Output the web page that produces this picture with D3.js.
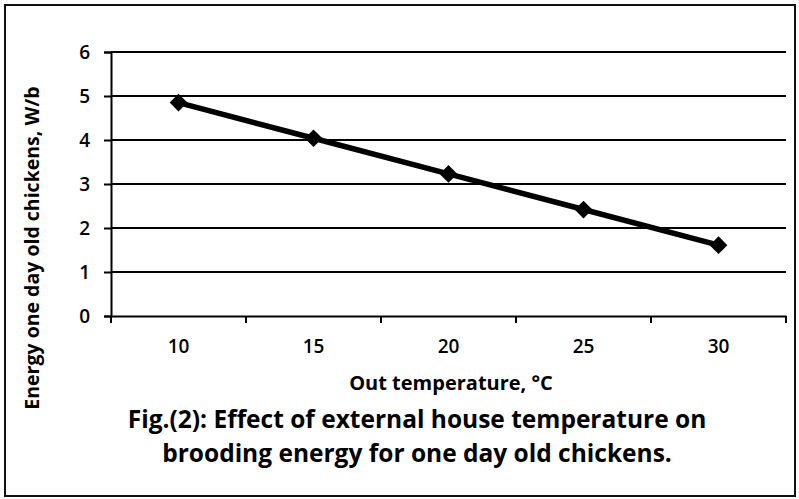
<!DOCTYPE html>
<html>
<head>
<meta charset="utf-8">
<script src="https://cdn.jsdelivr.net/npm/d3@7"></script>
<style>
  body { margin: 0; background: #fff; }
  svg text { font-family: "Open Sans", "DejaVu Sans", sans-serif; fill: #000; }
</style>
</head>
<body>
<div class="canvas"></div>
<script>
// data
const temps = ["10", "15", "20", "25", "30"];
const energy = [4.85, 4.04, 3.23, 2.42, 1.61];
const yTicks = [0, 1, 2, 3, 4, 5, 6];

const width = 799;
const height = 499;
const margin = { top: 52, right: 13, bottom: 183, left: 111 };
const graphWidth = width - margin.left - margin.right;
const graphHeight = height - margin.top - margin.bottom;

const svg = d3
  .select(".canvas")
  .append("svg")
  .attr("width", width)
  .attr("height", height);

// outer frame
svg
  .append("rect")
  .attr("x", 5)
  .attr("y", 5)
  .attr("width", 790)
  .attr("height", 491)
  .attr("fill", "none")
  .attr("stroke", "#111")
  .attr("stroke-width", 2);

const graph = svg
  .append("g")
  .attr("transform", `translate(${margin.left}, ${margin.top})`);

const x = d3.scaleBand().domain(temps).range([0, graphWidth]);
const y = d3.scaleLinear().domain([0, 6]).range([graphHeight, 0]);

// gridlines
graph
  .append("g")
  .selectAll("line")
  .data(yTicks.filter((d) => d > 0))
  .enter()
  .append("line")
  .attr("x1", 0)
  .attr("x2", graphWidth)
  .attr("y1", (d) => y(d))
  .attr("y2", (d) => y(d))
  .attr("stroke", "#000")
  .attr("stroke-width", 2);

// y axis
const yAxisGroup = graph.append("g").attr("class", "y-axis");
yAxisGroup.call(
  d3.axisLeft(y).tickValues(yTicks).tickFormat(d3.format("d")).tickSize(7).tickPadding(14)
);
yAxisGroup.select(".domain").attr("stroke-width", 2);
yAxisGroup.selectAll(".tick line").attr("stroke-width", 2);
yAxisGroup
  .selectAll("text")
  .style("font-size", "19px")
  .style("font-weight", "600");

// x axis: ticks at category boundaries
const xAxisGroup = graph
  .append("g")
  .attr("class", "x-axis")
  .attr("transform", `translate(0, ${graphHeight})`);
xAxisGroup.call(d3.axisBottom(x).tickSize(0).tickPadding(24));
xAxisGroup.select(".domain").attr("stroke-width", 2);
xAxisGroup
  .selectAll("text")
  .style("font-size", "19px")
  .style("font-weight", "600");

const bounds = temps.map((d) => x(d)).concat([graphWidth]);
xAxisGroup
  .selectAll(".bound")
  .data(bounds)
  .enter()
  .append("line")
  .attr("class", "bound")
  .attr("x1", (d) => d)
  .attr("x2", (d) => d)
  .attr("y1", 0)
  .attr("y2", 7)
  .attr("stroke", "#000")
  .attr("stroke-width", 2);

// line + diamond markers
const pts = temps.map((t, i) => ({ t: t, v: energy[i] }));
const line = d3
  .line()
  .x((d) => x(d.t) + x.bandwidth() / 2)
  .y((d) => y(d.v));

graph
  .append("path")
  .datum(pts)
  .attr("fill", "none")
  .attr("stroke", "#000")
  .attr("stroke-width", 5.5)
  .attr("d", line);

graph
  .selectAll(".marker")
  .data(pts)
  .enter()
  .append("path")
  .attr("class", "marker")
  .attr("d", d3.symbol().type(d3.symbolDiamond2).size(200))
  .attr("transform", (d) => `translate(${x(d.t) + x.bandwidth() / 2}, ${y(d.v)})`)
  .attr("fill", "#000");

// axis titles
svg
  .append("text")
  .attr("x", 451)
  .attr("y", 390)
  .attr("text-anchor", "middle")
  .style("font-size", "20px")
  .style("font-weight", "700")
  .text("Out temperature, °C");

svg
  .append("text")
  .attr("transform", "translate(39, 248) rotate(-90)")
  .attr("text-anchor", "middle")
  .style("font-size", "19.5px")
  .style("font-weight", "700")
  .text("Energy one day old chickens, W/b");

// caption
const caption = [
  "Fig.(2): Effect of external house temperature on",
  "brooding energy for one day old chickens.",
];
svg
  .selectAll(".caption")
  .data(caption)
  .enter()
  .append("text")
  .attr("class", "caption")
  .attr("x", 417)
  .attr("y", (d, i) => 428 + i * 34)
  .attr("text-anchor", "middle")
  .style("font-size", "24.5px")
  .style("font-weight", "700")
  .text((d) => d);
</script>
</body>
</html>
